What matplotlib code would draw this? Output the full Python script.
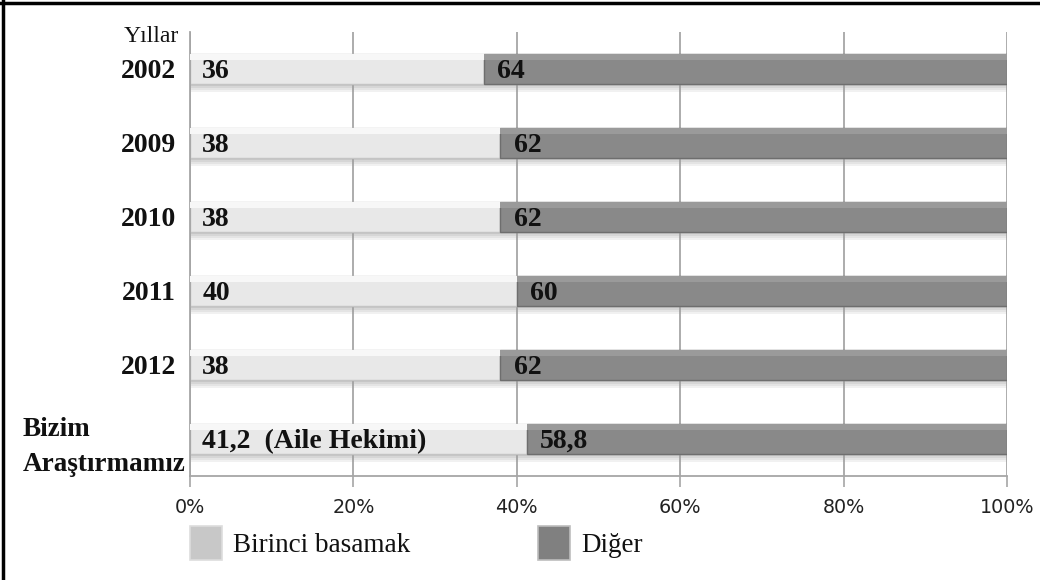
import numpy as np
import matplotlib
matplotlib.use("Agg")
import matplotlib.pyplot as plt
from matplotlib.patches import Rectangle
from matplotlib.lines import Line2D

categories = ["2002", "2009", "2010", "2011", "2012", "Bizim\nAraştırmamız"]
birinci = [36, 38, 38, 40, 38, 41.2]
diger = [64, 62, 62, 60, 62, 58.8]
birinci_labels = ["36", "38", "38", "40", "38", "41,2  (Aile Hekimi)"]
diger_labels = ["64", "62", "62", "60", "62", "58,8"]
xticks = [0, 20, 40, 60, 80, 100]
xtick_labels = ["0%", "20%", "40%", "60%", "80%", "100%"]
legend_labels = ["Birinci basamak", "Diğer"]
axis_title = "Yıllar"

W, H = 1040, 580
fig = plt.figure(figsize=(W / 100, H / 100), dpi=100)
ax = fig.add_axes([190 / W, 1 - 476 / H, (1007 - 190) / W, (476 - 32) / H])

serif = ["Liberation Serif", "DejaVu Serif"]
y = np.arange(len(categories))
bar_h = 0.41
light = "#e8e8e8"
light_top = "#f7f7f7"
dark = "#898989"
dark_top = "#9a9a9a"
total = [a + b for a, b in zip(birinci, diger)]

# soft shadow below bars
for k, al in enumerate([0.55, 0.4, 0.26, 0.13]):
    ax.barh(y + bar_h / 2 + 0.014 + 0.028 * k, total, height=0.028,
            color="#9a9a9a", alpha=al, linewidth=0, zorder=1)

ax.barh(y, birinci, height=bar_h, color=light, edgecolor="#c4c4c4",
        linewidth=1.0, zorder=2)
ax.barh(y, diger, left=birinci, height=bar_h, color=dark, edgecolor="#6e6e6e",
        linewidth=1.0, zorder=2)
# top highlight stripes
ax.barh(y - bar_h / 2 + 0.045, birinci, height=0.08, color=light_top,
        linewidth=0, zorder=3)
ax.barh(y - bar_h / 2 + 0.045, diger, left=birinci, height=0.08, color=dark_top,
        linewidth=0, zorder=3)

for yi, b, lb in zip(y, birinci, birinci_labels):
    ax.text(1.5, yi + 0.03, lb, ha="left", va="center", fontsize=20,
            fontweight="bold", family=serif, color="#111111", zorder=5)
for yi, b, lb in zip(y, birinci, diger_labels):
    ax.text(b + 1.6, yi + 0.03, lb, ha="left", va="center", fontsize=20,
            fontweight="bold", family=serif, color="#111111", zorder=5)

ax.set_xlim(0, 100)
ax.set_ylim(len(categories) - 0.5, -0.5)
ax.set_xticks(xticks)
ax.set_xticklabels(xtick_labels, fontsize=13.8, family="DejaVu Sans", color="#222222")
ax.tick_params(axis="x", length=8, width=1.2, color="#a6a6a6", pad=8)
ax.set_yticks(y)
ax.set_yticklabels(categories)
ax.tick_params(axis="y", length=0, pad=10)
for i, t in enumerate(ax.get_yticklabels()):
    t.set_family(serif)
    t.set_fontweight("bold")
    t.set_color("#111111")
    if "\n" in categories[i]:
        t.set_fontsize(19.5)
        t.set_multialignment("left")
        t.set_linespacing(1.55)
        t.set_x(0.011)
    else:
        t.set_fontsize(20)

ax.grid(axis="x", color="#a6a6a6", linewidth=1.3, zorder=0)
ax.set_axisbelow(True)
for s in ["top", "right"]:
    ax.spines[s].set_visible(False)
ax.spines["left"].set_color("#a6a6a6")
ax.spines["left"].set_linewidth(1.3)
ax.spines["bottom"].set_color("#a6a6a6")
ax.spines["bottom"].set_linewidth(1.3)

fig.text(179 / W, 1 - 36 / H, axis_title, ha="right", va="center", fontsize=17,
         family=serif, color="#111111")

# legend
leg_x = [190, 538]
for lx, col, ec, lab in zip(leg_x, ["#c8c8c8", "#808080"], ["#dddddd", "#bdbdbd"], legend_labels):
    fig.add_artist(Rectangle((lx / W, 1 - 560 / H), 32 / W, 34 / H, transform=fig.transFigure,
                             facecolor=col, edgecolor=ec, linewidth=1.2))
    fig.text((lx + 43) / W, 1 - 545 / H, lab, ha="left", va="center", fontsize=19.5,
             family=serif, color="#111111")

# outer frame (top and left)
fig.add_artist(Line2D([0, 1], [1 - 3 / H, 1 - 3 / H], transform=fig.transFigure,
                      color="black", linewidth=2.5))
fig.add_artist(Line2D([3 / W, 3 / W], [0, 1], transform=fig.transFigure,
                      color="black", linewidth=2.5))

fig.savefig("out.png", dpi=100)
